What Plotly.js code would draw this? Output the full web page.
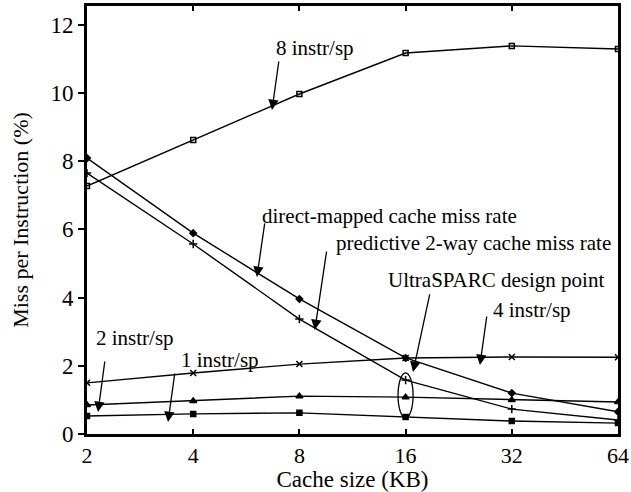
<!DOCTYPE html>
<html>
<head>
<meta charset="utf-8">
<script src="https://cdn.plot.ly/plotly-3.0.1.min.js"></script>
<style>html,body{margin:0;padding:0;background:#fff;}#chart{width:631px;height:492px;}</style>
</head>
<body>
<div id="chart"></div>
<script>
const cacheSizes = [2, 4, 8, 16, 32, 64];
const instr8 = [7.27, 8.62, 9.97, 11.17, 11.38, 11.29];
const directMapped = [8.09, 5.89, 3.96, 2.23, 1.20, 0.65];
const predictive2way = [7.65, 5.57, 3.37, 1.58, 0.73, 0.41];
const instr4 = [1.50, 1.79, 2.05, 2.23, 2.26, 2.25];
const instr2 = [0.85, 0.97, 1.11, 1.08, 1.00, 0.94];
const instr1 = [0.53, 0.59, 0.62, 0.50, 0.38, 0.32];
const tickLabels = ['2', '4', '8', '16', '32', '64'];
const yTicks = [0, 2, 4, 6, 8, 10, 12];

const FONT = 'Liberation Serif, Times New Roman, serif';
function tr(y, sym, size) {
  return {x: cacheSizes, y: y, type: 'scatter', mode: 'lines+markers',
    line: {color: '#000', width: 1.4},
    marker: {symbol: sym, size: size, color: '#000', line: {color: '#000', width: 1.5}},
    showlegend: false, hoverinfo: 'skip'};
}
const data = [
  tr(instr8, 'square-open', 5),
  tr(directMapped, 'diamond', 5),
  tr(predictive2way, 'cross-thin-open', 6),
  tr(instr4, 'x-thin-open', 6),
  tr(instr2, 'triangle-up', 6),
  tr(instr1, 'square', 5)
];

function lbl(text, x, y) {
  return {text: text, x: x, y: y, xref: 'paper', yref: 'paper', showarrow: false,
    font: {family: FONT, size: 21, color: '#000'}, xanchor: 'center', yanchor: 'middle'};
}
function arr(x, y, ax, ay) {
  return {text: '', x: x, y: y, xref: 'paper', yref: 'paper', showarrow: true,
    ax: ax, ay: ay, arrowhead: 2, arrowsize: 1.6, arrowwidth: 1.3, arrowcolor: '#000'};
}
const annotations = [
  lbl('8 instr/sp', 0.429, 0.902),
  lbl('direct-mapped cache miss rate', 0.569, 0.509),
  lbl('predictive 2-way cache miss rate', 0.727, 0.446),
  lbl('UltraSPARC design point', 0.770, 0.360),
  lbl('4 instr/sp', 0.838, 0.290),
  lbl('2 instr/sp', 0.0904, 0.224),
  lbl('1 instr/sp', 0.250, 0.173),
  arr(0.3484, 0.757, 7, -50),
  arr(0.320, 0.367, 8, -55),
  arr(0.429, 0.243, 12, -80),
  arr(0.614, 0.145, 17, -79),
  arr(0.740, 0.161, 7, -50),
  arr(0.0207, 0.0514, 7, -52),
  arr(0.1525, 0.028, 7, -50)
];

const yRange = [0, 12.55];
const layout = {
  width: 631, height: 492,
  margin: {l: 87, r: 13, t: 6, b: 58},
  paper_bgcolor: '#fff', plot_bgcolor: '#fff',
  font: {family: FONT, color: '#000'},
  showlegend: false,
  xaxis: {
    type: 'log', range: [Math.log10(2), Math.log10(64)],
    tickvals: cacheSizes, ticktext: tickLabels,
    ticks: 'inside', ticklen: 5, tickwidth: 2, tickcolor: '#000',
    showline: true, linewidth: 3, linecolor: '#000', mirror: 'ticks',
    showgrid: false, zeroline: false,
    tickfont: {family: FONT, size: 22, color: '#000'},
    title: {text: 'Cache size (KB)', font: {family: FONT, size: 23, color: '#000'}, standoff: 0}
  },
  yaxis: {
    range: yRange,
    tickvals: yTicks,
    ticks: 'outside', ticklen: 6, tickwidth: 2, tickcolor: '#000',
    showline: true, linewidth: 3, linecolor: '#000', mirror: true,
    showgrid: false, zeroline: false,
    tickfont: {family: FONT, size: 23, color: '#000'},
    title: {text: 'Miss per Instruction (%)', font: {family: FONT, size: 22, color: '#000'}, standoff: 16}
  },
  yaxis2: {
    overlaying: 'y', side: 'right', anchor: 'x',
    range: yRange, tickvals: yTicks,
    ticks: 'inside', ticklen: 5, tickwidth: 2, tickcolor: '#000',
    showticklabels: false, showline: false, showgrid: false, zeroline: false
  },
  shapes: [{type: 'circle', xref: 'x', yref: 'y', x0: 15.23, x1: 16.8, y0: 0.47, y1: 1.79,
    line: {color: '#000', width: 1.3}}],
  annotations: annotations
};
Plotly.newPlot('chart', data, layout, {displayModeBar: false, staticPlot: true});
</script>
</body>
</html>
